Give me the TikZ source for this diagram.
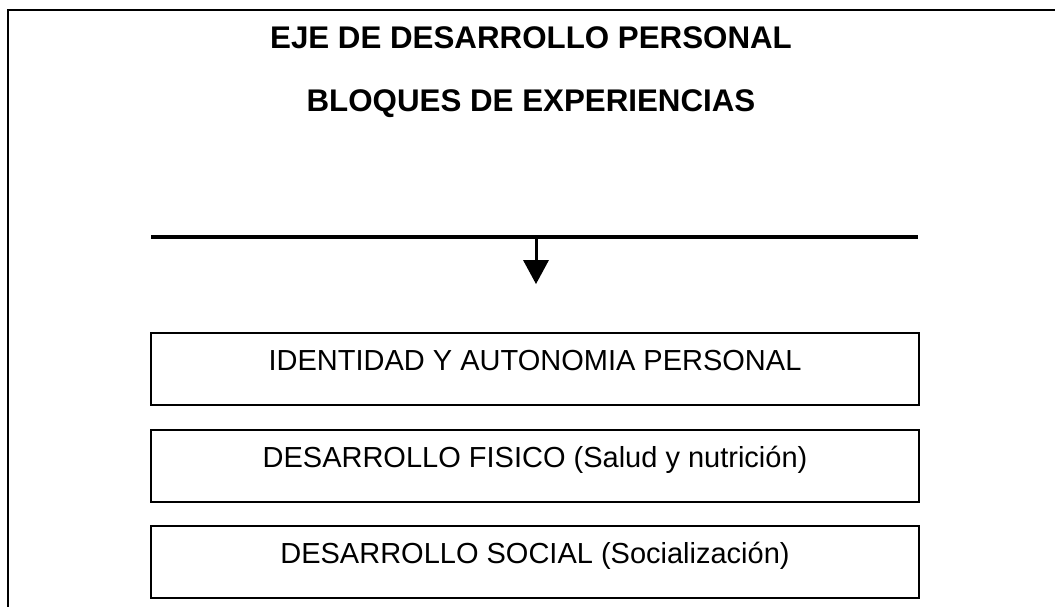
\documentclass[tikz,border=0pt]{standalone}
\usepackage{fontspec}
\setmainfont{Liberation Sans}
\begin{document}
\begin{tikzpicture}[x=1pt,y=-1pt,
  frame/.style={line width=2.5pt,line cap=rect},
  bar/.style={line width=4pt},
  titletext/.style={font=\fontsize{31.3}{36}\selectfont\bfseries,inner sep=0pt,anchor=base},
  blockbox/.style={draw,line width=2.5pt,minimum width=768pt,minimum height=72pt,inner sep=0pt,
    text height=37.5pt,text depth=34.5pt,font=\fontsize{29}{34}\selectfont}
]
\useasboundingbox (0,0) rectangle (1055,607);
% outer frame (top and left edges visible)
\coordinate (ftl) at (8,10);
\coordinate (ftr) at (1060,10);
\coordinate (fbl) at (8,612);
\draw[frame] (ftr) -- (ftl) -- (fbl);
% titles
\node[titletext] (t1) at (531,49) {EJE DE DESARROLLO PERSONAL};
\node[titletext] (t2) at (531,112) {BLOQUES DE EXPERIENCIAS};
% bar and arrow
\coordinate (barL) at (151,237);
\coordinate (barR) at (918,237);
\draw[bar] (barL) -- (barR);
\coordinate (stemTop) at (536,237);
\coordinate (stemBot) at (536,261);
\draw[line width=3pt] (stemTop) -- (stemBot);
\coordinate (triL) at (523,260);
\coordinate (triR) at (549,260);
\coordinate (triT) at (536,284);
\fill (triL) -- (triR) -- (triT) -- cycle;
% boxes
\node[blockbox] (b1) at (535,369) {IDENTIDAD Y AUTONOMIA PERSONAL};
\node[blockbox] (b2) at (535,466) {DESARROLLO FISICO (Salud y nutrición)};
\node[blockbox] (b3) at (535,562) {DESARROLLO SOCIAL (Socialización)};
\end{tikzpicture}
\end{document}
